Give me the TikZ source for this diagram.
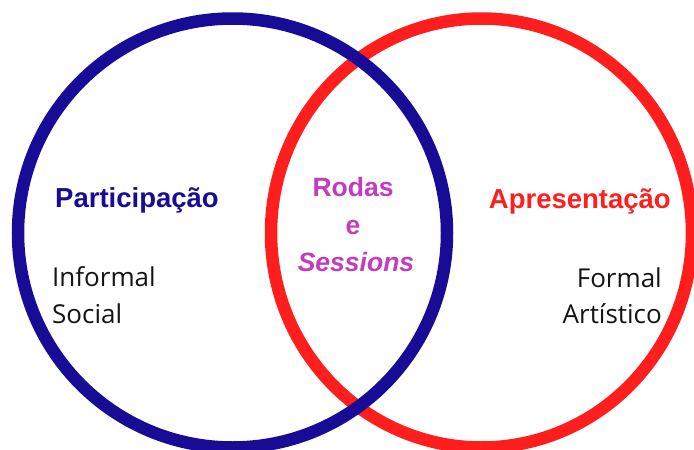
\documentclass[tikz,border=0pt]{standalone}
\usepackage{fontspec}
\setmainfont{Open Sans}
\newfontfamily\headfont{Liberation Sans}
\definecolor{partblue}{RGB}{24,12,150}
\definecolor{apred}{RGB}{255,30,30}
\definecolor{rodaspink}{RGB}{195,60,190}
\definecolor{itemgrey}{RGB}{20,20,20}

\begin{document}
\begin{tikzpicture}[x=1pt, y=-1pt,
    ring/.style={line width=12.5pt},
    head/.style={font=\headfont\bfseries\fontsize{27.5}{30}\selectfont, inner sep=0pt},
    item/.style={font=\fontsize{26}{30}\selectfont, text=itemgrey, inner sep=0pt}]
        % Venn diagram of the two circles
        \useasboundingbox (0,0) rectangle (694,450);
        \draw[ring, apred] (481.5,233) ellipse [x radius=210.5pt, y radius=214.5pt];
        \draw[ring, partblue] (232.5,233) ellipse [x radius=214.5pt, y radius=214.5pt];

        \node[head, text=partblue, anchor=base west] (part) at (55,207) {Participação};
        \node[item, anchor=base west] (informal) at (52,286) {Informal};
        \node[item, anchor=base west] (social) at (52,323) {Social};

        \node[head, text=rodaspink, anchor=base] (rodas) at (353,196) {\fontsize{26.5}{30}\selectfont Rodas};
        \node[head, text=rodaspink, anchor=base] (e) at (353,234) {\fontsize{26.5}{30}\selectfont e};
        \node[head, text=rodaspink, anchor=base] (sessions) at (356,271) {\fontsize{26.5}{30}\selectfont\itshape Sessions};

        \node[head, text=apred, anchor=base east] (apres) at (671,208) {Apresentação};
        \node[item, anchor=base east] (formal) at (662,287) {Formal};
        \node[item, anchor=base east] (artistico) at (662,323) {Artístico};
    \end{tikzpicture}
\end{document}
